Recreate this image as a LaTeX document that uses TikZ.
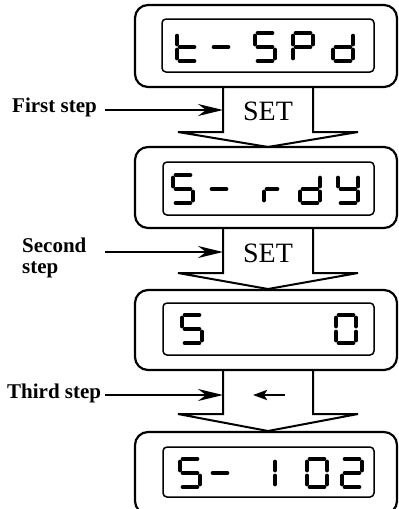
\documentclass[tikz,border=0pt]{standalone}
\usepackage{fontspec}
\setmainfont{Liberation Serif}
\usetikzlibrary{arrows.meta,calc}
\tikzset{
  outerbox/.style={draw, line width=2.2pt, rounded corners=13pt},
  innerbox/.style={draw, line width=1.5pt, rounded corners=4pt},
  blockarrow/.style={draw, fill=white, line width=2pt, line join=miter},
  segline/.style={line width=3.9pt, line cap=round, shorten <=2.6pt, shorten >=2.6pt},
  seg a/.style={insert path={(0,0) -- (20,0)}},
  seg b/.style={insert path={(20,0) -- (20,14)}},
  seg c/.style={insert path={(20,14) -- (20,28)}},
  seg d/.style={insert path={(0,28) -- (20,28)}},
  seg e/.style={insert path={(0,14) -- (0,28)}},
  seg f/.style={insert path={(0,0) -- (0,14)}},
  seg g/.style={insert path={(0,14) -- (20,14)}},
  seg h/.style={insert path={(0,14) -- (16,14)}},
  steplabel/.style={font=\fontsize{21}{21}\selectfont\bfseries, inner sep=0pt, align=left},
  settext/.style={font=\fontsize{28}{28}\selectfont, inner sep=0pt},
  conn/.style={line width=2.2pt, -{Stealth[length=25pt,width=12pt,inset=8pt]}},
  smallarr/.style={line width=2.8pt, -{Stealth[length=14pt,width=10pt,inset=3pt]}}
}
\newcommand\digitat[3]{%
  \begin{scope}[shift={(#1,#2)}]
    \foreach \s in {#3}{\edef\tmpseg{\noexpand\draw[segline, seg \s];}\tmpseg}
  \end{scope}}
\begin{document}
\begin{tikzpicture}[x=1pt, y=-1pt]
\useasboundingbox (0,0) rectangle (399,509);

% block arrows
\draw[blockarrow] (223,87) -- (223,132) -- (178,132) -- (268,147) -- (358,132) -- (313,132) -- (313,87);
\draw[blockarrow] (223,228) -- (223,273) -- (178,273) -- (268,289) -- (358,273) -- (313,273) -- (313,228);
\draw[blockarrow] (223,370) -- (223,414) -- (178,414) -- (268,431) -- (358,414) -- (313,414) -- (313,370);

% outer boxes
\draw[outerbox] (135,5) rectangle (397,87);
\draw[outerbox] (135,147) rectangle (397,228);
\draw[outerbox] (135,290) rectangle (397,370);
\draw[outerbox] (135,432) rectangle (397,514);

% inner boxes
\draw[innerbox] (162,19) rectangle (374,72);
\draw[innerbox] (163,162) rectangle (374,215);
\draw[innerbox] (163,303) rectangle (374,355);
\draw[innerbox] (163,447) rectangle (374,497);

% display 1: t- SPd
\digitat{177}{33}{d,e,f,g}
\digitat{211}{33}{g}
\digitat{255}{33}{a,f,g,c,d}
\digitat{293}{33}{a,b,f,g,e}
\digitat{333}{33}{b,c,d,e,g}
% display 2: S- rdY
\digitat{173}{175}{a,f,g,c,d}
\digitat{209}{175}{g}
\digitat{264}{175}{e,h}
\digitat{300}{175}{b,c,d,e,g}
\digitat{338}{175}{b,c,d,f,g}
% display 3: S    0
\digitat{182}{315}{a,f,g,c,d}
\digitat{336}{315}{a,b,c,d,e,f}
% display 4: S- 102
\digitat{180}{459}{a,f,g,c,d}
\digitat{210}{459}{g}
\digitat{255}{459}{b,c}
\digitat{307}{459}{a,b,c,d,e,f}
\digitat{342}{459}{a,b,g,e,d}

% SET texts
\node[settext] (set1) at (268,111) {SET};
\node[settext] (set2) at (268,253) {SET};
\coordinate (la) at (285,395);
\coordinate (lb) at (253,395);
\draw[smallarr] (la) -- (lb);

% step labels
\node[steplabel, anchor=base west] (first) at (12,112) {First step};
\node[steplabel, anchor=north west] (second) at (22,237.7) {Second\\step};
\node[steplabel, anchor=base west] (third) at (7,398) {Third step};

\coordinate (s1) at (223,110);
\coordinate (s2) at (223,252);
\coordinate (s3) at (223,395);
\coordinate (t1) at (105,110);
\coordinate (t2) at (105,252);
\coordinate (t3) at (105,395);
\draw[conn] (t1) -- (s1);
\draw[conn] (t2) -- (s2);
\draw[conn] (t3) -- (s3);
\end{tikzpicture}
\end{document}
